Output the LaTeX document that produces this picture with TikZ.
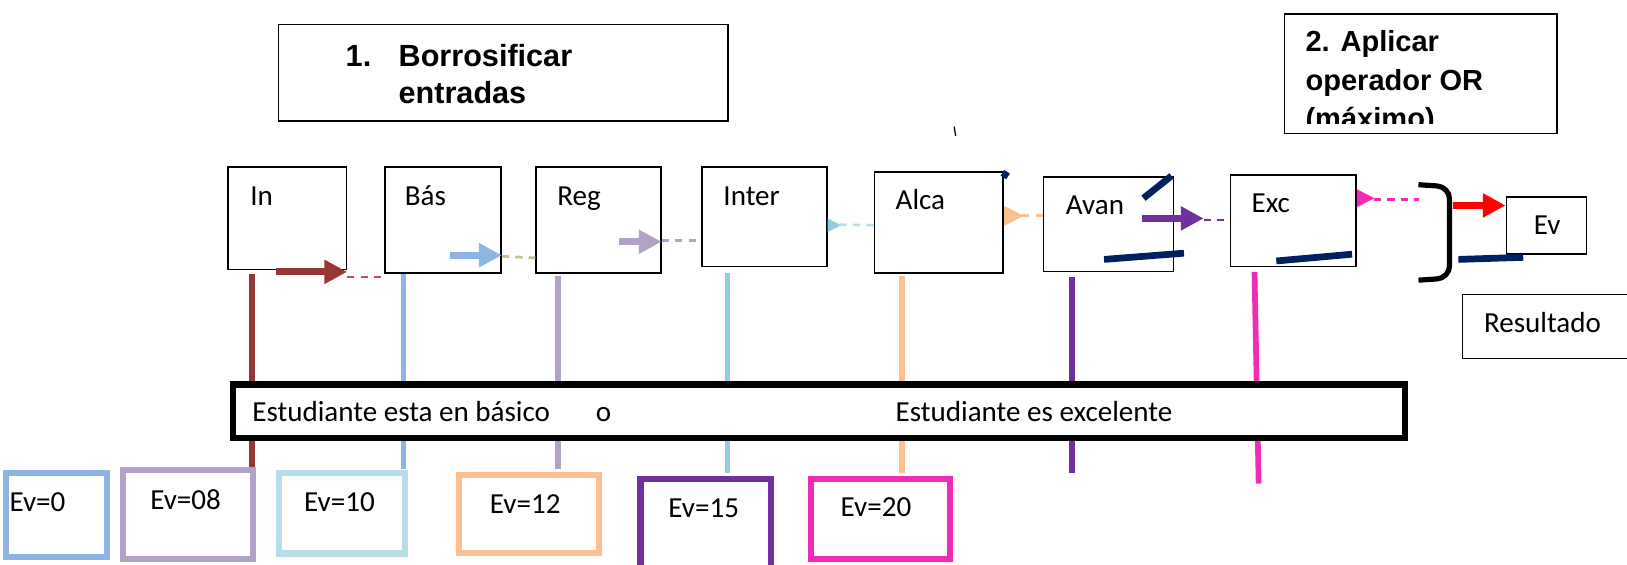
\documentclass[tikz,border=0pt]{standalone}
\usepackage{fontspec}
\setmainfont{Carlito}
\newfontfamily\hdrfont{Liberation Sans}
\usetikzlibrary{arrows.meta,positioning,calc}

\definecolor{dkred}{HTML}{953735}
\definecolor{ltred}{HTML}{C0504D}
\definecolor{ltblue}{HTML}{8EB4E3}
\definecolor{khaki}{HTML}{C4BD97}
\definecolor{lilac}{HTML}{B3A2C7}
\definecolor{aqua}{HTML}{93CDDD}
\definecolor{paleaqua}{HTML}{B7DEE8}
\definecolor{peach}{HTML}{FAC090}
\definecolor{grape}{HTML}{7030A0}
\definecolor{pink}{HTML}{EF2BB8}
\definecolor{navy}{HTML}{002060}

\begin{document}
\begin{tikzpicture}[x=1pt,y=-1pt,
    every node/.style={inner sep=0pt,font=\fontsize{28}{33}\selectfont},
    txt/.style={anchor=base west},
    hdr/.style={anchor=base west,font=\hdrfont\bfseries\fontsize{28}{34}\selectfont},
    box/.style={draw,line width=1.6pt,anchor=north west},
    lvl/.style={line width=5.5pt},
    evbox/.style={draw,line width=6pt,anchor=north west},
    fat/.style={line width=7pt,-{Triangle[length=22pt,width=22pt]}},
    headonly/.style={line width=1pt,-{Triangle[length=#1,width=#1]}},
    trail/.style={line width=2.6pt,dash pattern=on 7pt off 6pt},
    stub/.style={navy,line width=6.5pt}]
    \useasboundingbox (0,0) rectangle (1568,544);

    % headers
    \node[box,line width=1.3pt,minimum width=433pt,minimum height=93pt] at (268,23) (step1) {};
    \node[hdr,font=\hdrfont\bfseries\fontsize{29.5}{35}\selectfont] at (333,64) (step1n) {1.};
    \node[hdr,font=\hdrfont\bfseries\fontsize{29.5}{35}\selectfont] at (384,64) (step1a) {Borrosificar};
    \node[hdr,font=\hdrfont\bfseries\fontsize{29.5}{35}\selectfont] at (384,99.5) (step1b) {entradas};
    \begin{scope}
    \clip (1237,13) rectangle (1500,119);
    \node[hdr] at (1258,50) (step2a) {2. Aplicar};
    \node[hdr] at (1258,87) (step2b) {operador OR};
    \node[hdr] at (1258,124) (step2c) {(máximo)};
    \end{scope}
    \node[box,line width=1.3pt,minimum width=263pt,minimum height=115pt] at (1237,13) (step2) {};
    \draw[line width=1.2pt] (919.5,122) -- (921,131);

    % level lines
    \foreach \x/\c/\a/\b in {243/dkred/264/453, 389/ltblue/262/452, 537.5/lilac/266/452,
        701/aqua/263/456, 869/peach/266/456, 1033/grape/267/456}
        \draw[lvl,\c] (\x,\a) -- (\x,\b);
    \draw[lvl,pink] (1209,262) -- (1213,466);

    % input boxes
    \foreach \name/\x/\y/\w/\h/\lab/\lx/\ly in {in/219/160/114/99/In/241/198,
        bas/370/160/112/102/Bás/390/198, reg/516/160/120/102/Reg/537/198,
        inter/676/160/120/96/Inter/697/198, alca/842/165/124/97/Alca/863/202,
        avan/1005/170/125/91/Avan/1027/207, exc/1185/168/121/88/Exc/1206/205}
    {%
    \node[box,minimum width=\w pt,minimum height=\h pt] at (\x,\y) (\name) {};
    \node[txt] at (\lx,\ly) (\name l) {\lab};
    }%
    \node[box,minimum width=77pt,minimum height=55pt] at (1451,189) (ev) {};
    \node[txt] at (1478,226) (evl) {Ev};
    \node[box,line width=1.3pt,minimum width=170pt,minimum height=62pt] at (1409,283) (res) {};
    \node[txt] at (1430,320) (resl) {Resultado};

    % arrows
    \draw[fat,dkred] (266,262) -- (in.east |- 0,262);
    \draw[trail,ltred] (in.east |- 0,267) -- (bas.west |- 0,267);
    \draw[fat,ltblue] (434,246) -- (bas.east |- 0,246);
    \draw[trail,khaki] (bas.east |- 0,247) -- (reg.west |- 0,248.5);
    \draw[fat,lilac] (597,233) -- (reg.east |- 0,233);
    \draw[trail,lilac] (reg.east |- 0,232) -- (inter.west |- 0,232);
    \draw[headonly=13pt,aqua] (inter.east |- 0,217) -- ++(13,0);
    \draw[trail,paleaqua] (809,216.5) -- (alca.west |- 0,217);
    \draw[headonly=19pt,peach] (alca.east |- 0,208) -- ++(19,0);
    \draw[trail,peach] (985,208) -- (avan.west |- 0,208);
    \draw[fat,grape] (1101,210.5) -- (1160,210.5);
    \draw[trail,grape] (1160,212) -- (exc.west |- 0,212);
    \draw[headonly=17pt,pink] (exc.east |- 0,191) -- ++(17,0);
    \draw[trail,pink] (1324,192.5) -- (1368,192.5);
    \draw[line width=5pt,rounded corners=12pt] (1367,178) -- (1397,180) -- (1397,268) -- (1367,270);
    \draw[fat,red] (1400,198) -- (ev.west |- 0,198);

    % navy marks
    \draw[stub] (967,171) -- (970.5,165.5);
    \draw[stub] (1102,191) -- (1129,169.5);
    \draw[stub] (1064,250) -- (1141,244);
    \draw[stub] (1230,251.5) -- (1303,245);
    \draw[stub] (1405.5,250) -- (1468,248);

    % condition
    \node[draw,line width=6pt,fill=white,anchor=north west,minimum width=1129.6pt,minimum height=51.8pt] at (221.4,367.6) (cond) {};
    \node[txt] at (243,406.5) (cond1) {Estudiante esta en básico};
    \node[txt] at (574,406.5) (condor) {o};
    \node[txt] at (863,406.5) (cond2) {Estudiante es excelente};

    % outputs
    \foreach \name/\c/\x/\y/\w/\h/\lab/\lx/\ly in {ev0/ltblue/3/453/97/80.6/Ev=0/9/493,
        ev8/lilac/115.3/450/125.7/86/Ev=08/144.6/491, ev10/paleaqua/265.7/452.7/121.7/77.7/Ev=10/293/492.5,
        ev12/peach/439.3/454.4/135.3/75.2/Ev=12/472/494.7, ev15/grape/614.3/458.5/125.7/100/Ev=15/644/498.6,
        ev20/pink/778.8/458.5/133.6/77.2/Ev=20/810/498}
    {%
    \node[evbox,draw=\c,minimum width=\w pt,minimum height=\h pt] at (\x,\y) (\name) {};
    \node[txt] at (\lx,\ly) (\name l) {\lab};
    }%
\end{tikzpicture}
\end{document}
